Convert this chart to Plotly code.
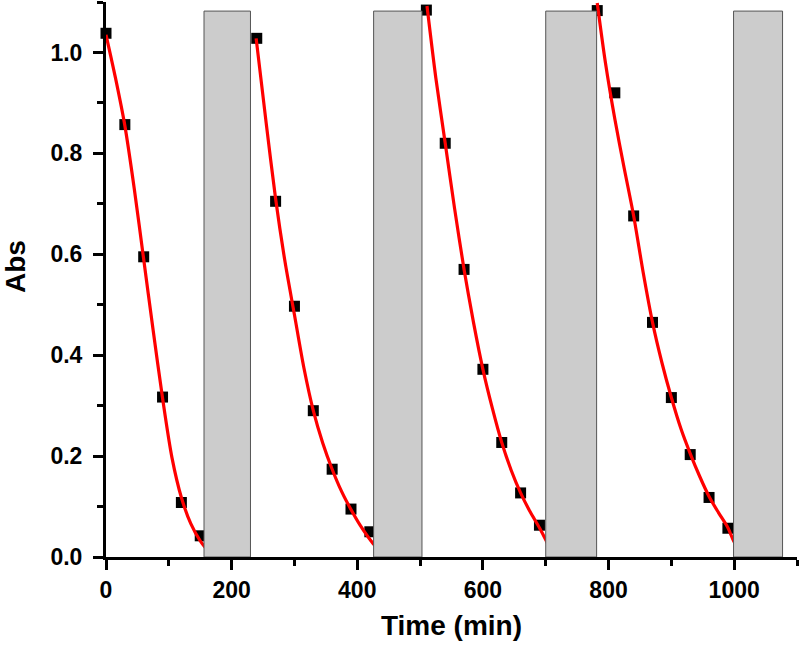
import plotly.graph_objects as go

# Measured points (time in min, absorbance)
time_pts = [0, 30, 60, 90, 120, 150,
            240, 270, 300, 330, 360, 390, 420,
            510, 540, 570, 600, 630, 660, 690,
            782, 810, 840, 870, 900, 930, 960, 990]
abs_pts = [1.038, 0.857, 0.595, 0.317, 0.108, 0.042,
           1.028, 0.705, 0.497, 0.290, 0.174, 0.095, 0.050,
           1.084, 0.820, 0.570, 0.372, 0.227, 0.127, 0.063,
           1.083, 0.920, 0.676, 0.465, 0.316, 0.203, 0.118, 0.057]

# Fitted curves
fit1_x = [0, 15, 30, 45, 60, 75, 90, 105, 120, 135, 150, 165, 180]
fit1_y = [1.035, 0.95, 0.855, 0.73, 0.59, 0.45, 0.315, 0.197, 0.118, 0.066, 0.032, 0.01, 0.0]
fit2_x = [239, 255, 270, 285, 300, 315, 330, 345, 360, 375, 390, 405, 425, 447]
fit2_y = [1.028, 0.86, 0.71, 0.585, 0.48, 0.375, 0.29, 0.226, 0.174, 0.13, 0.094, 0.062, 0.027, 0.0]
fit3_x = [511, 525, 540, 555, 570, 585, 600, 615, 630, 645, 660, 675, 690, 700, 713]
fit3_y = [1.092, 0.95, 0.82, 0.69, 0.57, 0.465, 0.372, 0.295, 0.227, 0.172, 0.127, 0.09, 0.058, 0.034, 0.0]
fit4_x = [782, 795, 810, 825, 840, 855, 870, 885, 900, 915, 930, 945, 960, 975, 990, 999, 1014]
fit4_y = [1.098, 0.98, 0.868, 0.77, 0.676, 0.565, 0.465, 0.385, 0.316, 0.255, 0.205, 0.16, 0.12, 0.088, 0.058, 0.032, 0.0]

# Gray (dark period) bands
band_start = [156, 426, 700, 999]
band_end = [230, 503, 781, 1077]
band_top = 1.082

x_ticks = [0, 200, 400, 600, 800, 1000]
y_ticks = [0.0, 0.2, 0.4, 0.6, 0.8, 1.0]

fig = go.Figure()
fig.add_trace(go.Scatter(x=time_pts, y=abs_pts, mode="markers",
                         marker=dict(symbol="square", size=11, color="black"),
                         showlegend=False, cliponaxis=False))
for fx, fy in [(fit1_x, fit1_y), (fit2_x, fit2_y), (fit3_x, fit3_y), (fit4_x, fit4_y)]:
    fig.add_trace(go.Scatter(x=fx, y=fy, mode="lines",
                             line=dict(color="#ff0000", width=3.2, shape="spline", smoothing=0.8),
                             showlegend=False, cliponaxis=False))

for s, e in zip(band_start, band_end):
    fig.add_shape(type="rect", x0=s, x1=e, y0=0, y1=band_top, xref="x", yref="y",
                  fillcolor="#cccccc", line=dict(color="#555555", width=1), layer="above")

tick_font = dict(family="Liberation Sans, Arial, sans-serif", size=23, color="black", weight="bold")
title_font = dict(family="Liberation Sans, Arial, sans-serif", size=28, color="black", weight="bold")

fig.add_annotation(text="Abs", xref="paper", yref="paper", x=-0.132, y=0.524,
                   xanchor="center", yanchor="middle", textangle=-90, showarrow=False,
                   font=title_font)

fig.update_layout(
    width=800, height=648,
    margin=dict(l=106, r=3, t=2, b=91, autoexpand=False),
    plot_bgcolor="white", paper_bgcolor="white",
    xaxis=dict(range=[0, 1100], tickvals=x_ticks, ticktext=[str(v) for v in x_ticks],
               showline=True, linewidth=3, linecolor="black", automargin=False,
               ticks="outside", ticklen=10, tickwidth=3, tickcolor="black",
               minor=dict(ticks="outside", ticklen=6, tickwidth=3, tickcolor="black", dtick=100, tick0=0, showgrid=False),
               showgrid=False, zeroline=False, tickfont=tick_font,
               title=dict(text="Time (min)", font=title_font, standoff=14)),
    yaxis=dict(range=[0, 1.1], tickvals=y_ticks, ticktext=[f"{v:.1f}" for v in y_ticks],
               showline=True, linewidth=3, linecolor="black", automargin=False,
               ticks="outside", ticklen=10, tickwidth=3, tickcolor="black",
               minor=dict(ticks="outside", ticklen=6, tickwidth=3, tickcolor="black", dtick=0.1, tick0=0, showgrid=False),
               showgrid=False, zeroline=False, tickfont=tick_font, ticklabelstandoff=6),
)

fig.write_html("out.html", config={"displayModeBar": False},
               post_script="document.body.style.margin='0px';document.body.style.overflow='hidden';")
